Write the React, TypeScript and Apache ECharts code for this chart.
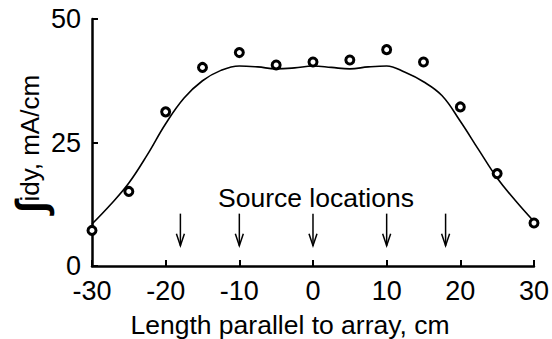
import React, { useEffect, useRef } from "react";
import * as echarts from "echarts";

const curveX = [-30, -27.5, -25, -22.5, -20, -17.5, -15, -12.5, -10, -7.5, -5, -2.5, 0, 2.5, 5, 7.5, 10, 12.5, 15, 17.5, 20, 22.5, 25, 27.5, 30];
const curveY = [8.5, 12.4, 16.8, 22.5, 28.8, 34.0, 37.5, 39.6, 40.5, 40.3, 39.9, 40.1, 40.5, 40.2, 39.9, 40.3, 40.5, 39.2, 37.3, 34.5, 29.3, 23.5, 17.8, 13.2, 9.0];
const pointX = [-30, -25, -20, -15, -10, -5, 0, 5, 10, 15, 20, 25, 30];
const pointY = [7.2, 15.1, 31.2, 40.2, 43.2, 40.7, 41.3, 41.7, 43.8, 41.3, 32.2, 18.7, 8.7];
const sourceX = [-18, -10, 0, 10, 18];
const arrowTop = 10.6;
const arrowBottom = 4.1;
const xTicks = { min: -30, max: 30, interval: 10 };
const yTicks = { min: 0, max: 50, interval: 25 };
const xTitle = "Length parallel to array, cm";
const yTitle = "idy, mA/cm";
const annotation = "Source locations";

const FONT = "Liberation Sans, Arial, sans-serif";

export default function App() {
  const ref = useRef<HTMLDivElement>(null);
  useEffect(() => {
    if (!ref.current) return;
    const chart = echarts.init(ref.current, undefined, { renderer: "svg" });
    chart.setOption({
      animation: false,
      backgroundColor: "#ffffff",
      grid: { left: 92, right: 16, top: 19, bottom: 73, containLabel: false },
      xAxis: {
        type: "value",
        min: xTicks.min,
        max: xTicks.max,
        interval: xTicks.interval,
        axisLine: { show: true, onZero: false, lineStyle: { color: "#000", width: 2.5 } },
        axisTick: { show: true, inside: true, length: 6, lineStyle: { color: "#000", width: 2 } },
        axisLabel: { color: "#000", fontSize: 27, lineHeight: 20, fontFamily: FONT, margin: 15 },
        splitLine: { show: false },
      },
      yAxis: {
        type: "value",
        min: yTicks.min,
        max: yTicks.max,
        interval: yTicks.interval,
        axisLine: { show: true, onZero: false, lineStyle: { color: "#000", width: 2.5 } },
        axisTick: { show: true, inside: true, length: 6, lineStyle: { color: "#000", width: 2 } },
        axisLabel: { color: "#000", fontSize: 27, lineHeight: 14, fontFamily: FONT, margin: 11 },
        splitLine: { show: false },
      },
      graphic: [
        {
          type: "text",
          x: 290,
          y: 325,
          style: {
            text: xTitle,
            fill: "#000",
            fontSize: 26.5,
            lineHeight: 22,
            fontFamily: FONT,
            align: "center",
            verticalAlign: "middle",
          },
        },
        {
          type: "text",
          x: 316,
          y: 198,
          style: {
            text: annotation,
            fill: "#000",
            fontSize: 26.5,
            fontFamily: FONT,
            align: "center",
            verticalAlign: "middle",
          },
        },
        {
          type: "text",
          x: 30,
          y: 144,
          rotation: Math.PI / 2,
          style: {
            text: "{a|∫}{b|" + yTitle + "}",
            align: "center",
            verticalAlign: "middle",
            rich: {
              a: { fontSize: 42, fontWeight: "bold", fontFamily: FONT, fill: "#000", color: "#000" },
              b: { fontSize: 26, fontFamily: FONT, fill: "#000", color: "#000" },
            },
          },
        },
      ],
      series: [
        {
          type: "line",
          data: curveX.map((x, i) => [x, curveY[i]]),
          smooth: 0.4,
          showSymbol: false,
          symbol: "none",
          lineStyle: { color: "#000", width: 1.6 },
          z: 2,
        },
        {
          type: "scatter",
          data: pointX.map((x, i) => [x, pointY[i]]),
          symbol: "circle",
          symbolSize: 8,
          itemStyle: { color: "#fff", borderColor: "#000", borderWidth: 3, opacity: 1 },
          z: 3,
        },
        {
          type: "custom",
          data: sourceX.map((x) => [x, arrowTop, arrowBottom]),
          encode: { x: 0, y: [1, 2] },
          renderItem: (params: any, api: any) => {
            const top = api.coord([api.value(0), api.value(1)]);
            const bot = api.coord([api.value(0), api.value(2)]);
            return {
              type: "group",
              children: [
                {
                  type: "line",
                  shape: { x1: top[0], y1: top[1], x2: bot[0], y2: bot[1] },
                  style: { stroke: "#000", lineWidth: 1.5 },
                },
                {
                  type: "polyline",
                  shape: { points: [[bot[0] - 4, bot[1] - 12], [bot[0], bot[1]], [bot[0] + 4, bot[1] - 12]] },
                  style: { stroke: "#000", fill: "none", lineWidth: 1.5 },
                },
              ],
            };
          },
          z: 2,
        },
      ],
    });
    return () => chart.dispose();
  }, []);
  return <div ref={ref} style={{ position: "fixed", left: 0, top: 0, width: 552, height: 339 }} />;
}
